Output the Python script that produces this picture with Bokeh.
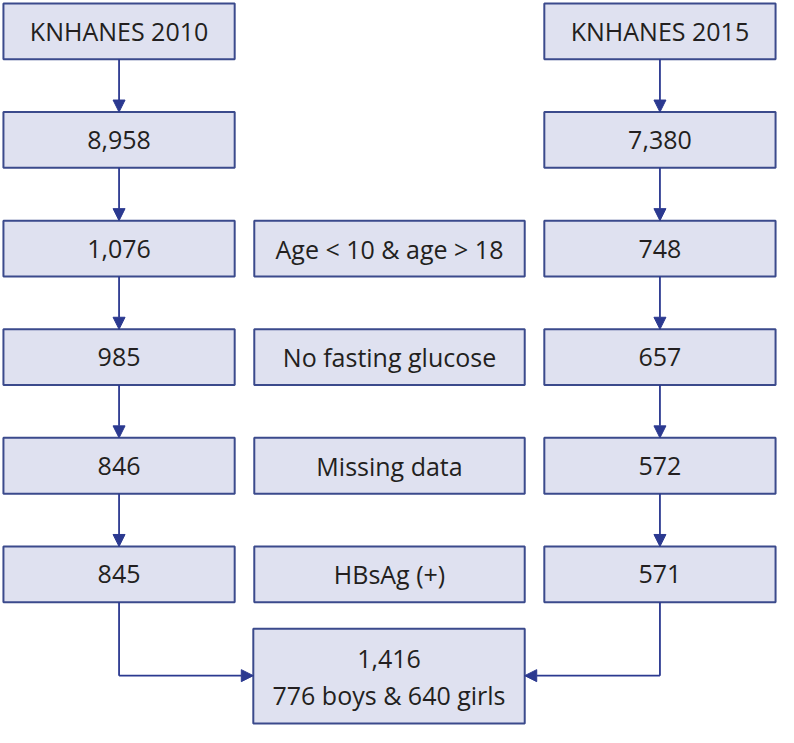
from bokeh.plotting import figure
from bokeh.models import Range1d, Arrow, NormalHead, ColumnDataSource
from bokeh.core.properties import value
from bokeh.embed import file_html
from bokeh.resources import INLINE

left_labels = ["KNHANES 2010", "8,958", "1,076", "985", "846", "845"]
mid_labels = ["", "", "Age < 10 & age > 18", "No fasting glucose", "Missing data", "HBsAg (+)"]
right_labels = ["KNHANES 2015", "7,380", "748", "657", "572", "571"]
final_labels = ["1,416", "776 boys & 640 girls"]

FILL = "#dfe1f0"
EDGE = "#3b4a8c"
ARROW = "#2b3990"
TXT = "#231f20"
FONT = "Open Sans"

W, H = 794, 743
p = figure(width=778, height=727, x_range=Range1d(0, W), y_range=Range1d(H, 0),
           output_backend="svg", toolbar_location=None, min_border=0)
p.axis.visible = False
p.grid.visible = False
p.outline_line_color = None

cols = {"L": (3, 239), "M": (259, 535), "R": (555, 791)}
row_top0, row_step, row_h = 3, 111, 57

boxes = dict(l=[], r=[], t=[], b=[])
texts = dict(x=[], y=[], s=[])
for col, labels in (("L", left_labels), ("M", mid_labels), ("R", right_labels)):
    x0, x1 = cols[col]
    for i, lab in enumerate(labels):
        if not lab:
            continue
        t = row_top0 + i * row_step
        boxes["l"].append(x0); boxes["r"].append(x1)
        boxes["t"].append(t); boxes["b"].append(t + row_h)
        texts["x"].append((x0 + x1) / 2); texts["y"].append(t + row_h / 2)
        texts["s"].append(lab)

# final box
ft, fb = 642, 739
boxes["l"].append(258); boxes["r"].append(535); boxes["t"].append(ft); boxes["b"].append(fb)
for k, lab in enumerate(final_labels):
    texts["x"].append((258 + 535) / 2); texts["y"].append(673 + 37 * k); texts["s"].append(lab)

p.quad(left="l", right="r", top="t", bottom="b", source=ColumnDataSource(boxes),
       fill_color=FILL, line_color=EDGE, line_width=2)
p.text(x="x", y="y", text="s", source=ColumnDataSource(texts), text_align="center",
       text_baseline="middle", text_font=value(FONT), text_font_size="25px", text_color=TXT)

def arrow(x0, y0, x1, y1):
    p.add_layout(Arrow(end=NormalHead(size=12, fill_color=ARROW, line_color=ARROW),
                       x_start=x0, y_start=y0, x_end=x1, y_end=y1,
                       line_color=ARROW, line_width=1.8))

for col, labels in (("L", left_labels), ("R", right_labels)):
    x0, x1 = cols[col]
    cx = (x0 + x1) / 2
    for i in range(len(labels) - 1):
        arrow(cx, row_top0 + i * row_step + row_h, cx, row_top0 + (i + 1) * row_step)

last_bot = row_top0 + 5 * row_step + row_h
yj = 690
lcx = sum(cols["L"]) / 2
rcx = sum(cols["R"]) / 2
p.line([lcx, lcx], [last_bot, yj], line_color=ARROW, line_width=1.8)
p.line([rcx, rcx], [last_bot, yj], line_color=ARROW, line_width=1.8)
arrow(lcx, yj, 258, yj)
arrow(rcx, yj, 535, yj)

open("out.html", "w").write(file_html(p, INLINE))
